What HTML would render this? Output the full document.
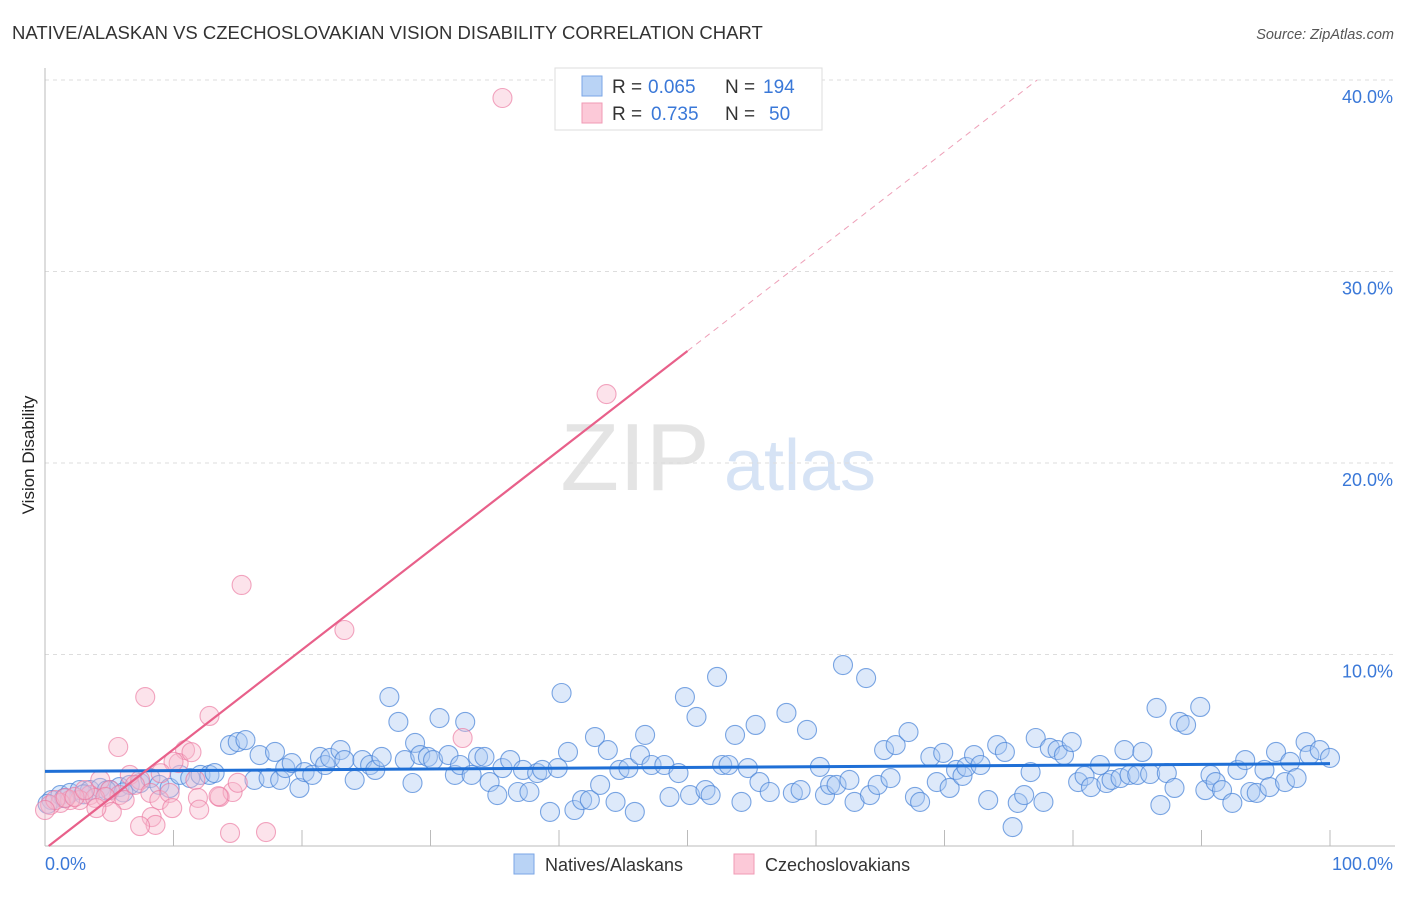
<!DOCTYPE html>
<html><head><meta charset="utf-8"><style>
body{margin:0;background:#fff;font-family:"Liberation Sans",sans-serif}
svg text{font-family:"Liberation Sans",sans-serif}
</style></head><body>
<svg id="c" width="1406" height="892" viewBox="0 0 1406 892">
<text x="12" y="39" font-size="18.5" fill="#333">NATIVE/ALASKAN VS CZECHOSLOVAKIAN VISION DISABILITY CORRELATION CHART</text>
<text x="1394" y="39" font-size="14.5" fill="#555" font-style="italic" text-anchor="end">Source: ZipAtlas.com</text>
<text transform="translate(34,455) rotate(-90)" font-size="17" fill="#222" text-anchor="middle">Vision Disability</text>
<g><text x="635" y="490" font-size="96" fill="#e4e4e4" font-family="Liberation Serif,serif" text-anchor="middle">ZIP</text><text x="800" y="490" font-size="72" fill="#d6e3f5" text-anchor="middle">atlas</text></g>
<g id="grid"></g><g id="blue"></g><g id="pink"></g><g id="lines"></g>
<g>
<rect x="555" y="68" width="267" height="62" fill="#fff" stroke="#ddd"/>
<rect x="582" y="76" width="20" height="20" fill="#b9d3f5" stroke="#7aa6e6"/>
<rect x="582" y="103" width="20" height="20" fill="#fcc9d8" stroke="#f09ab5"/>
<text x="612" y="93" font-size="19" fill="#333">R =</text><text x="648" y="93" font-size="19" fill="#3a78d8">0.065</text>
<text x="725" y="93" font-size="19" fill="#333">N =</text><text x="763" y="93" font-size="19" fill="#3a78d8">194</text>
<text x="612" y="120" font-size="19" fill="#333">R =</text><text x="651" y="120" font-size="19" fill="#3a78d8">0.735</text>
<text x="725" y="120" font-size="19" fill="#333">N =</text><text x="769" y="120" font-size="19" fill="#3a78d8">50</text>
</g>
<g>
<rect x="514" y="854" width="20" height="20" fill="#b9d3f5" stroke="#7aa6e6"/>
<text x="545" y="871" font-size="18" fill="#333">Natives/Alaskans</text>
<rect x="734" y="854" width="20" height="20" fill="#fcc9d8" stroke="#f09ab5"/>
<text x="765" y="871" font-size="18" fill="#333">Czechoslovakians</text>
</g>
</svg>
<script>
const yTicks=[10,20,30,40];
const yTickLabels=["10.0%","20.0%","30.0%","40.0%"];
const xTickLabels=["0.0%","100.0%"];
const blueX=[0.5,1.2,1.95,2.7,3.5,4.3,5.06,5.8,6.6,7.4,8.2,8.9,9.7,10.5,11.3,12.1,12.8,13.2,14.4,15.0,15.6,16.3,16.7,17.4,17.9,18.3,18.7,19.2,19.8,20.2,20.8,21.4,21.8,22.2,23.0,23.3,24.1,24.7,25.3,25.7,26.2,26.8,27.5,28.0,28.6,28.8,29.2,29.8,30.2,30.7,31.4,31.9,32.3,32.7,33.2,33.7,34.2,34.6,35.2,35.6,36.2,36.8,37.2,37.7,38.3,38.7,39.3,39.9,40.2,40.7,41.2,41.8,42.4,42.8,43.2,43.8,44.4,44.7,45.4,45.9,46.7,46.3,47.2,48.2,48.6,49.3,49.8,50.2,50.7,51.4,51.8,52.3,52.7,53.2,53.7,54.2,54.7,55.3,55.6,56.4,57.7,58.2,58.8,59.3,60.3,60.7,61.1,61.6,62.1,62.6,63.0,63.9,64.2,64.8,65.3,65.8,66.2,67.2,67.7,68.1,68.9,69.4,69.9,70.4,70.9,71.4,71.7,72.3,72.8,73.4,74.1,74.7,75.3,75.7,76.2,76.7,77.1,77.7,78.2,78.8,79.3,79.9,80.4,80.9,81.4,82.1,82.6,83.0,83.7,84.0,84.4,85.0,85.4,86.0,86.5,86.8,87.3,87.9,88.3,88.8,89.9,90.3,90.7,91.1,91.6,92.4,92.8,93.4,93.8,94.3,94.9,95.3,95.8,96.5,96.9,97.4,98.1,98.4,99.2,100,0.2,1.5,3.0,4.8,6.1];
const blueY=[2.4,2.66,2.77,2.92,2.92,3.03,2.92,3.08,3.19,3.29,3.55,3.19,3.03,3.71,3.55,3.71,3.71,3.81,5.27,5.43,5.53,3.45,4.75,3.55,4.91,3.45,4.07,4.33,3.03,3.86,3.71,4.65,4.23,4.6,5.01,4.49,3.45,4.49,4.23,3.97,4.65,7.78,6.48,4.49,3.29,5.38,4.75,4.65,4.49,6.68,4.75,3.71,4.23,6.48,3.71,4.65,4.65,3.34,2.66,4.07,4.49,2.82,3.97,2.82,3.81,3.97,1.78,4.07,7.99,4.91,1.88,2.4,2.4,5.69,3.19,5.01,2.3,3.97,4.07,1.78,5.8,4.75,4.23,4.23,2.56,3.81,7.78,2.66,6.74,2.92,2.66,8.83,4.23,4.23,5.8,2.3,4.07,6.32,3.34,2.82,6.95,2.77,2.92,6.06,4.13,2.66,3.19,3.19,9.45,3.45,2.3,8.77,2.66,3.19,5.01,3.55,5.27,5.95,2.56,2.3,4.65,3.34,4.86,3.03,3.97,3.66,4.13,4.75,4.23,2.4,5.27,4.91,0.99,2.25,2.66,3.86,5.64,2.3,5.12,5.01,4.75,5.43,3.34,3.66,3.08,4.23,3.29,3.45,3.55,5.01,3.71,3.71,4.91,3.76,7.21,2.14,3.81,3.03,6.48,6.32,7.26,2.92,3.71,3.34,2.92,2.25,3.97,4.49,2.82,2.77,3.97,3.08,4.91,3.34,4.39,3.55,5.43,4.75,5.01,4.6,2.2,2.5,2.7,2.9,2.8];
const pinkX=[35.6,43.7,15.3,23.3,7.8,12.8,10.9,5.7,32.5,10.4,6.6,7.4,4.3,5.06,5.8,3.5,2.7,1.95,1.2,0.4,0.8,1.6,2.3,3.9,4.7,6.2,7.0,8.2,8.9,9.7,11.7,11.9,13.6,14.6,8.3,8.6,7.4,9.9,14.4,17.2,5.2,3.1,4.0,0,10.0,11.4,13.5,15.0,12.0,9.0];
const pinkY=[39.06,23.6,13.63,11.28,7.78,6.79,5.01,5.17,5.64,4.33,3.71,3.45,3.45,2.92,2.66,2.66,2.4,2.4,2.25,2.14,2.4,2.51,2.56,2.51,2.56,2.4,3.19,2.77,2.4,2.77,3.45,2.51,2.56,2.82,1.51,1.1,1.04,1.98,0.68,0.73,1.78,2.92,1.98,1.88,4.4,4.9,2.6,3.3,1.9,3.8];
const blueFit=[3.9,0.004];
const pinkFit=[-0.15,0.52];
const NS="http://www.w3.org/2000/svg";
const X0=45,X1=1330,Y0=846,PY=19.15;
function sx(v){return X0+(X1-X0)*v/100;}
function sy(v){return Y0-v*PY;}
function mk(t,a,p){const e=document.createElementNS(NS,t);for(const k in a)e.setAttribute(k,a[k]);p.appendChild(e);return e;}
const g=document.getElementById('grid');
yTicks.forEach((t,i)=>{
 const l=mk('line',{x1:45,x2:1395,y1:sy(t),y2:sy(t),stroke:'#ddd','stroke-dasharray':'4,4'},g);
 
 
 const tx=mk('text',{x:1393,y:sy(t)+23,'font-size':18,fill:'#3a78d8','text-anchor':'end'},g);tx.textContent=yTickLabels[i];
 
 
});
const ax=mk('line',{x1:45,x2:1395,y1:Y0,y2:Y0,stroke:'#bbb'},g);


const ay=mk('line',{x1:45,x2:45,y1:68,y2:Y0,stroke:'#bbb'},g);


for(let k=1;k<=10;k++){const tk=mk('line',{x1:sx(k*10),x2:sx(k*10),y1:Y0-16,y2:Y0,stroke:'#bbb'},g);
 
 }
const t0=mk('text',{x:45,y:870,'font-size':18,fill:'#3a78d8'},g);t0.textContent=xTickLabels[0];


const t1=mk('text',{x:1393,y:870,'font-size':18,fill:'#3a78d8','text-anchor':'end'},g);t1.textContent=xTickLabels[1];


const bg=document.getElementById('blue');
blueX.forEach((x,i)=>{const c=mk('circle',{cx:sx(x),cy:sy(blueY[i]),r:9.5,fill:'rgba(170,200,242,0.4)',stroke:'rgba(70,130,215,0.7)','stroke-width':1.1},bg);
 
 });
const pg=document.getElementById('pink');
pinkX.forEach((x,i)=>{const c=mk('circle',{cx:sx(x),cy:sy(pinkY[i]),r:9.5,fill:'rgba(248,185,205,0.4)',stroke:'rgba(235,120,160,0.65)','stroke-width':1.1},pg);
 
 });
const lg=document.getElementById('lines');
const bl=mk('line',{x1:sx(0),y1:sy(blueFit[0]),x2:sx(100),y2:sy(blueFit[0]+100*blueFit[1]),stroke:'#1f6fd6','stroke-width':3},lg);


const xs=(0-pinkFit[0])/pinkFit[1], xm=50, xe=(40-pinkFit[0])/pinkFit[1];
const pl=mk('line',{x1:sx(xs),y1:sy(0),x2:sx(xm),y2:sy(pinkFit[0]+xm*pinkFit[1]),stroke:'#e8608a','stroke-width':2.2},lg);


const pd=mk('line',{x1:sx(xm),y1:sy(pinkFit[0]+xm*pinkFit[1]),x2:sx(xe),y2:sy(40),stroke:'#eea0b8','stroke-width':1,'stroke-dasharray':'6,5'},lg);


</script>
</body></html>
